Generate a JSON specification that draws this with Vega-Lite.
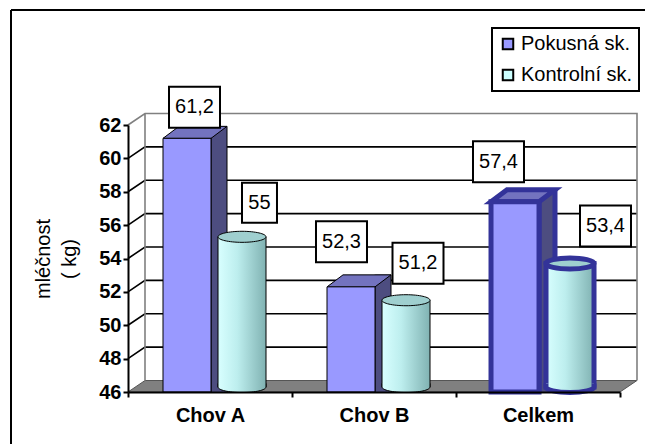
{
  "$schema": "https://vega.github.io/schema/vega-lite/v6.json",
  "width": 634,
  "height": 434,
  "autosize": "none",
  "padding": {"left": 11, "top": 10, "right": 0, "bottom": 0},
  "background": "white",
  "datasets": {
    "milk": [
      {"cat": "Chov A", "series": "Pokusná sk.", "value": 61.2},
      {"cat": "Chov A", "series": "Kontrolní sk.", "value": 55},
      {"cat": "Chov B", "series": "Pokusná sk.", "value": 52.3},
      {"cat": "Chov B", "series": "Kontrolní sk.", "value": 51.2},
      {"cat": "Celkem", "series": "Pokusná sk.", "value": 57.4},
      {"cat": "Celkem", "series": "Kontrolní sk.", "value": 53.4}
    ],
    "gridTicks": [{"value": 48}, {"value": 50}, {"value": 52}, {"value": 54}, {"value": 56}, {"value": 58}, {"value": 60}],
    "topTick": [{"value": 62}],
    "floorTick": [{"value": 46}]
  },
  "layer": [
    {
      "data": {"name": "floorTick"},
      "mark": {"type": "point", "shape": "M-1,0L1,0L1.0691,-0.0467L-0.9309,-0.0467Z", "size": 242064, "filled": true, "fill": "#808080", "stroke": "#555555", "strokeWidth": 1, "opacity": 1},
      "encoding": {
        "x": {"datum": "Chov B", "type": "nominal", "title": null},
        "y": {"field": "value", "type": "quantitative"}
      }
    },
    {
      "data": {"name": "gridTicks"},
      "mark": {"type": "point", "shape": "M-1,0L-0.9309,-0.0467L1.0691,-0.0467", "size": 242064, "filled": false, "stroke": "black", "strokeWidth": 1.6, "opacity": 1},
      "encoding": {
        "x": {"datum": "Chov B", "type": "nominal", "title": null},
        "y": {"field": "value", "type": "quantitative"}
      }
    },
    {
      "data": {"name": "topTick"},
      "mark": {"type": "point", "shape": "M-1,0L-0.9309,-0.0467L1.0691,-0.0467L1.0691,1.0386M-0.9309,-0.0467L-0.9309,1.0386", "size": 242064, "filled": false, "stroke": "#808080", "strokeWidth": 1.6, "opacity": 1},
      "encoding": {
        "x": {"datum": "Chov B", "type": "nominal", "title": null},
        "y": {"field": "value", "type": "quantitative"}
      }
    },
    {
      "data": {"name": "milk"},
      "encoding": {
        "x": {
          "field": "cat", "type": "nominal", "sort": null,
          "scale": {"domain": ["Chov A", "Chov B", "Celkem"], "range": [117, 609], "paddingInner": 0, "paddingOuter": 0},
          "axis": {
            "title": null, "labelAngle": 0, "labelAlign": "center", "labelBaseline": "top", "labelFont": "Liberation Sans", "labelFontSize": 20, "labelFontWeight": "bold",
            "labelColor": "black", "labelPadding": 8, "tickBand": "extent", "tickSize": 5, "tickColor": "black", "tickWidth": 2,
            "domainColor": "black", "domainWidth": 2, "offset": -52, "zindex": 1
          }
        },
        "y": {
          "field": "value", "type": "quantitative",
          "scale": {"domain": [46, 62], "range": [382, 115], "zero": false, "nice": false},
          "axis": {
            "title": ["mléčnost", "( kg)"], "values": [46, 48, 50, 52, 54, 56, 58, 60, 62], "format": "d", "offset": -117,
            "labelFont": "Liberation Sans", "labelFontSize": 20, "labelFontWeight": "bold", "labelColor": "black", "labelPadding": 2,
            "tickSize": 5, "tickWidth": 2, "tickColor": "black", "domainColor": "black", "domainWidth": 2, "grid": false,
            "titleFont": "Liberation Sans", "titleFontSize": 20, "titleFontWeight": "normal", "titleColor": "black",
            "titlePadding": 19, "titleLineHeight": 26, "zindex": 1
          }
        }
      },
      "layer": [
        {
          "transform": [{"filter": "datum.series === 'Pokusná sk.'"}],
          "mark": {"type": "rule", "yOffset": -12, "strokeCap": "butt"},
          "encoding": {
            "x": {"field": "cat", "type": "nominal", "bandPosition": 0.5549, "title": null},
            "y2": {"datum": 46},
            "color": {"condition": {"test": "datum.cat === 'Celkem'", "value": "#333399"}, "value": "black"},
            "strokeWidth": {"condition": {"test": "datum.cat === 'Celkem'", "value": 21}, "value": 17}
          }
        },
        {
          "transform": [{"filter": "datum.series === 'Pokusná sk.'"}],
          "mark": {"type": "rule", "yOffset": -12, "strokeCap": "butt", "color": "#4d4d80"},
          "encoding": {
            "x": {"field": "cat", "type": "nominal", "bandPosition": 0.5549, "title": null},
            "y2": {"datum": 46},
            "strokeWidth": {"condition": {"test": "datum.cat === 'Celkem'", "value": 11}, "value": 15}
          }
        },
        {
          "transform": [{"filter": "datum.series === 'Pokusná sk.'"}],
          "mark": {"type": "point", "shape": "M-1,0L1,0L1.667,-0.5L-0.333,-0.5Z", "size": 2304, "filled": true, "fill": "#7373bf", "opacity": 1},
          "encoding": {
            "x": {"field": "cat", "type": "nominal", "bandPosition": 0.3598, "title": null},
            "stroke": {"condition": {"test": "datum.cat === 'Celkem'", "value": "#333399"}, "value": "black"},
            "strokeWidth": {"condition": {"test": "datum.cat === 'Celkem'", "value": 5}, "value": 1}
          }
        },
        {
          "transform": [{"filter": "datum.series === 'Pokusná sk.'"}],
          "mark": {"type": "bar"},
          "encoding": {
            "xOffset": {
              "field": "series", "type": "nominal", "sort": ["Pokusná sk.", "Kontrolní sk."],
              "scale": {"domain": ["Pokusná sk.", "Kontrolní sk."], "paddingInner": 0.1273, "paddingOuter": 0.5545, "align": 0.574}
            },
            "y2": {"datum": 46},
            "color": {
              "field": "series", "type": "nominal",
              "scale": {"domain": ["Pokusná sk.", "Kontrolní sk."], "range": ["#9999ff", "#ccffff"]},
              "legend": {"title": null, "orient": "none", "legendX": 481, "legendY": 18}
            },
            "stroke": {"condition": {"test": "datum.cat === 'Celkem'", "value": "#333399"}, "value": "black"},
            "strokeWidth": {"condition": {"test": "datum.cat === 'Celkem'", "value": 5}, "value": 1}
          }
        },
        {
          "transform": [{"filter": "datum.series === 'Kontrolní sk.'"}],
          "mark": {
            "type": "bar", "yOffset": -5, "y2Offset": -5,
            "fill": {"gradient": "linear", "x1": 0, "x2": 1, "y1": 0, "y2": 0,
              "stops": [{"offset": 0, "color": "#d8ffff"}, {"offset": 0.4, "color": "#bdeeee"}, {"offset": 1, "color": "#80b2b2"}]}
          },
          "encoding": {
            "xOffset": {
              "field": "series", "type": "nominal", "sort": ["Pokusná sk.", "Kontrolní sk."],
              "scale": {"domain": ["Pokusná sk.", "Kontrolní sk."], "paddingInner": 0.1273, "paddingOuter": 0.5545, "align": 0.574}
            },
            "y2": {"datum": 46},
            "stroke": {"condition": {"test": "datum.cat === 'Celkem'", "value": "#333399"}, "value": "black"},
            "strokeWidth": {"condition": {"test": "datum.cat === 'Celkem'", "value": 5}, "value": 1}
          }
        },
        {
          "transform": [{"filter": "datum.series === 'Kontrolní sk.'"}],
          "mark": {
            "type": "point", "shape": "M-1,-0.15L-1,0C-1,0.127,-0.552,0.23,0,0.23C0.552,0.23,1,0.127,1,0L1,-0.15",
            "size": 2304, "filled": true, "opacity": 1, "yOffset": -5,
            "fill": {"gradient": "linear", "x1": 0, "x2": 1, "y1": 0, "y2": 0,
              "stops": [{"offset": 0, "color": "#d8ffff"}, {"offset": 0.4, "color": "#bdeeee"}, {"offset": 1, "color": "#80b2b2"}]}
          },
          "encoding": {
            "x": {"field": "cat", "type": "nominal", "bandPosition": 0.6951, "title": null},
            "y": {"datum": 46, "type": "quantitative"},
            "stroke": {"condition": {"test": "datum.cat === 'Celkem'", "value": "#333399"}, "value": "black"},
            "strokeWidth": {"condition": {"test": "datum.cat === 'Celkem'", "value": 5}, "value": 1}
          }
        },
        {
          "transform": [{"filter": "datum.series === 'Kontrolní sk.'"}],
          "mark": {
            "type": "point", "shape": "M-1,0C-1,-0.127,-0.552,-0.23,0,-0.23C0.552,-0.23,1,-0.127,1,0C1,0.127,0.552,0.23,0,0.23C-0.552,0.23,-1,0.127,-1,0Z",
            "size": 2304, "filled": true, "opacity": 1, "yOffset": -5, "fill": "#9fcfcf"
          },
          "encoding": {
            "x": {"field": "cat", "type": "nominal", "bandPosition": 0.6951, "title": null},
            "stroke": {"condition": {"test": "datum.cat === 'Celkem'", "value": "#333399"}, "value": "black"},
            "strokeWidth": {"condition": {"test": "datum.cat === 'Celkem'", "value": 5}, "value": 1}
          }
        },
        {
          "transform": [{"filter": "datum.cat === 'Chov A' && datum.series === 'Pokusná sk.'"}],
          "encoding": {"x": {"field": "cat", "type": "nominal", "bandPosition": 0.4055, "title": null}},
          "layer": [
            {"mark": {"type": "point", "shape": "M-1,-0.804H1V0.804H-1Z", "size": 2601, "filled": true, "fill": "white", "stroke": "black", "strokeWidth": 2, "opacity": 1, "yOffset": -31}},
            {"mark": {"type": "text", "font": "Liberation Sans", "fontSize": 20, "color": "black", "baseline": "middle", "yOffset": -31},
             "encoding": {"text": {"field": "value", "type": "quantitative", "format": ".3~r"}}}
          ]
        },
        {
          "transform": [{"filter": "datum.cat === 'Chov A' && datum.series === 'Kontrolní sk.'"}],
          "encoding": {"x": {"field": "cat", "type": "nominal", "bandPosition": 0.8018, "title": null}},
          "layer": [
            {"mark": {"type": "point", "shape": "M-0.686,-0.784H0.686V0.784H-0.686Z", "size": 2601, "filled": true, "fill": "white", "stroke": "black", "strokeWidth": 2, "opacity": 1, "yOffset": -39}},
            {"mark": {"type": "text", "font": "Liberation Sans", "fontSize": 20, "color": "black", "baseline": "middle", "yOffset": -39},
             "encoding": {"text": {"field": "value", "type": "quantitative", "format": ".3~r"}}}
          ]
        },
        {
          "transform": [{"filter": "datum.cat === 'Chov B' && datum.series === 'Pokusná sk.'"}],
          "encoding": {"x": {"field": "cat", "type": "nominal", "bandPosition": 0.3018, "title": null}},
          "layer": [
            {"mark": {"type": "point", "shape": "M-1,-0.804H1V0.804H-1Z", "size": 2601, "filled": true, "fill": "white", "stroke": "black", "strokeWidth": 2, "opacity": 1, "yOffset": -45}},
            {"mark": {"type": "text", "font": "Liberation Sans", "fontSize": 20, "color": "black", "baseline": "middle", "yOffset": -45},
             "encoding": {"text": {"field": "value", "type": "quantitative", "format": ".3~r"}}}
          ]
        },
        {
          "transform": [{"filter": "datum.cat === 'Chov B' && datum.series === 'Kontrolní sk.'"}],
          "encoding": {"x": {"field": "cat", "type": "nominal", "bandPosition": 0.7683, "title": null}},
          "layer": [
            {"mark": {"type": "point", "shape": "M-1,-0.804H1V0.804H-1Z", "size": 2601, "filled": true, "fill": "white", "stroke": "black", "strokeWidth": 2, "opacity": 1, "yOffset": -42}},
            {"mark": {"type": "text", "font": "Liberation Sans", "fontSize": 20, "color": "black", "baseline": "middle", "yOffset": -42},
             "encoding": {"text": {"field": "value", "type": "quantitative", "format": ".3~r"}}}
          ]
        },
        {
          "transform": [{"filter": "datum.cat === 'Celkem' && datum.series === 'Pokusná sk.'"}],
          "encoding": {"x": {"field": "cat", "type": "nominal", "bandPosition": 0.2591, "title": null}},
          "layer": [
            {"mark": {"type": "point", "shape": "M-1,-0.804H1V0.804H-1Z", "size": 2601, "filled": true, "fill": "white", "stroke": "black", "strokeWidth": 2, "opacity": 1, "yOffset": -40}},
            {"mark": {"type": "text", "font": "Liberation Sans", "fontSize": 20, "color": "black", "baseline": "middle", "yOffset": -40},
             "encoding": {"text": {"field": "value", "type": "quantitative", "format": ".3~r"}}}
          ]
        },
        {
          "transform": [{"filter": "datum.cat === 'Celkem' && datum.series === 'Kontrolní sk.'"}],
          "encoding": {"x": {"field": "cat", "type": "nominal", "bandPosition": 0.9116, "title": null}},
          "layer": [
            {"mark": {"type": "point", "shape": "M-1,-0.804H1V0.804H-1Z", "size": 2601, "filled": true, "fill": "white", "stroke": "black", "strokeWidth": 2, "opacity": 1, "yOffset": -42.5}},
            {"mark": {"type": "text", "font": "Liberation Sans", "fontSize": 20, "color": "black", "baseline": "middle", "yOffset": -42.5},
             "encoding": {"text": {"field": "value", "type": "quantitative", "format": ".3~r"}}}
          ]
        }
      ]
    }
  ],
  "config": {
    "locale": {"number": {"decimal": ",", "thousands": " ", "grouping": [3], "currency": ["", " Kč"]}},
    "view": {"stroke": "black", "strokeWidth": 2, "strokeDash": [634, 1068, 434, 0]},
    "legend": {
      "labelFont": "Liberation Sans", "labelFontSize": 20, "labelColor": "black", "labelLimit": 300,
      "symbolType": "square", "symbolSize": 110, "symbolStrokeColor": "black", "symbolStrokeWidth": 2,
      "padding": 6, "rowPadding": 11, "labelOffset": 3,
      "strokeColor": "black", "strokeWidth": 2, "fillColor": "white"
    }
  }
}
